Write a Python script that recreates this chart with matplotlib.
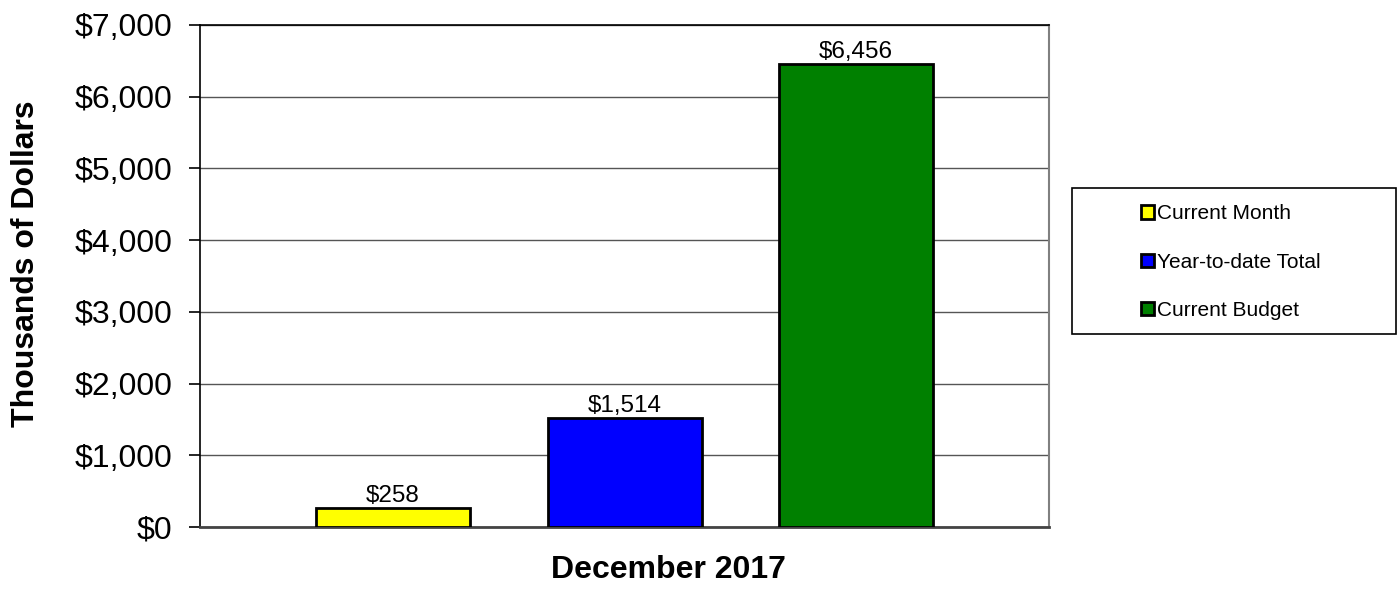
import matplotlib.pyplot as plt
from matplotlib.patches import Rectangle
from matplotlib.ticker import FuncFormatter

plt.rcParams['font.family'] = ['Liberation Sans', 'DejaVu Sans']

# valores em milhares de dolares
categorias = ['Current Month', 'Year-to-date Total', 'Current Budget']
valores = [258, 1514, 6456]
cores = ['#ffff00', '#0000ff', '#008000']
periodo = 'December 2017'

fig = plt.figure(figsize=(13.98, 5.89), dpi=100)
ax = fig.add_axes([200/1398, 1 - 527/589, 849/1398, 502/589])

posicoes = [0, 1, 2]
barras = ax.bar(posicoes, valores, width=0.665, color=cores,
                edgecolor='black', linewidth=2, zorder=3)

# rotulos com o valor em cima de cada barra
for x, v in zip(posicoes, valores):
    ax.text(x, v + 15, '${:,}'.format(v), ha='center', va='bottom', fontsize=17.5)

ax.set_xlim(-0.834, 2.833)
ax.set_ylim(0, 7000)
ax.set_yticks(range(0, 7001, 1000))
ax.yaxis.set_major_formatter(FuncFormatter(lambda v, p: '${:,.0f}'.format(v)))
ax.tick_params(axis='y', labelsize=23, length=8, width=1.2, pad=12)
ax.set_xticks([])
ax.grid(axis='y', color='#555555', linewidth=1, zorder=0)

for lado in ['left', 'bottom', 'top']:
    ax.spines[lado].set_color('black')
    ax.spines[lado].set_linewidth(1.2)
ax.spines['right'].set_color('#808080')
ax.spines['right'].set_linewidth(1.5)
ax.spines['bottom'].set_color('#444444')
ax.spines['bottom'].set_linewidth(2)

ax.set_ylabel('Thousands of Dollars', fontsize=23, fontweight='bold')
ax.yaxis.set_label_coords(-0.205, 0.524)
ax.yaxis.label.set_verticalalignment('center')
ax.set_xlabel(periodo, fontsize=23, fontweight='bold')
ax.xaxis.set_label_coords(0.552, -0.055)

# legenda com caixa desenhada a parte
fig.patches.append(Rectangle((1072/1398, 1 - 334/589), 324/1398, 146/589,
                             transform=fig.transFigure, facecolor='white',
                             edgecolor='black', linewidth=1.2))
alcas = [Rectangle((0, 0), 1, 1, facecolor=c, edgecolor='black', linewidth=2)
         for c in cores]
fig.legend(alcas, categorias, loc='center', bbox_to_anchor=(1231/1398, 1 - 262/589),
           frameon=False, fontsize=15, handlelength=0.6, handleheight=0.6,
           handletextpad=0.15, labelspacing=1.4)

plt.savefig('out.png', dpi=100)
